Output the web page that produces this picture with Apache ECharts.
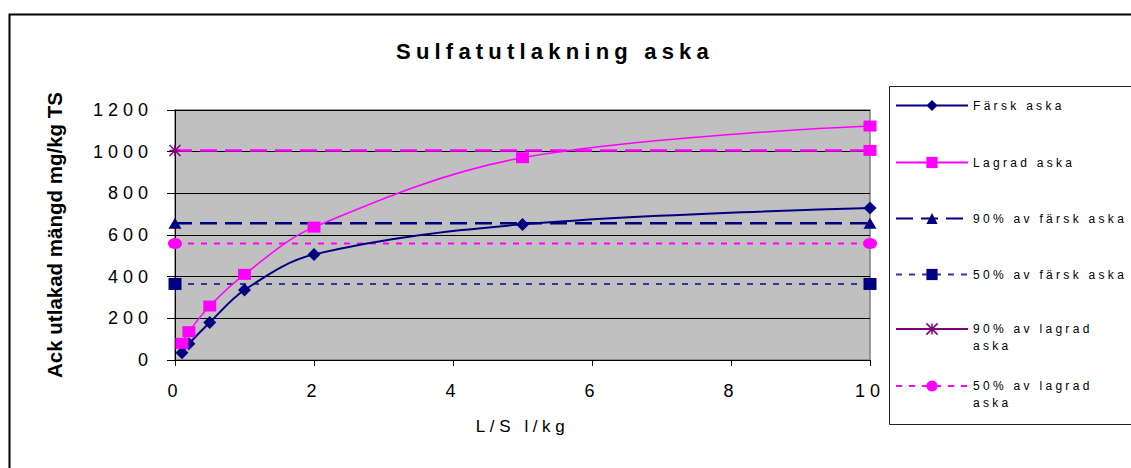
<!DOCTYPE html>
<html>
<head>
<meta charset="utf-8">
<script src="https://cdn.jsdelivr.net/npm/echarts@6/dist/echarts.min.js"></script>
<style>
html, body { margin: 0; padding: 0; background: #fff; }
#chart { width: 1131px; height: 468px; }
#chart text[style*="22px"] { letter-spacing: 5.2px; }
#chart text[style*="18px"] { letter-spacing: 5px; }
#chart text[style*="17px"] { letter-spacing: 4.6px; }
#chart text[style*="12px"] { letter-spacing: 3.3px; }
</style>
</head>
<body>
<div id="chart"></div>
<script>
// ---- data ----
const titleText = 'Sulfatutlakning aska';
const xAxisTitle = 'L/S l/kg';
const yAxisTitle = 'Ack utlakad mängd mg/kg TS';
const xVals = [0.1, 0.2, 0.5, 1, 2, 5, 10];
const farsk = [35, 78, 180, 336, 507, 651, 730];
const lagrad = [80, 136, 259, 411, 638, 971, 1123];
const refX = [0, 10];
const farsk90 = [657, 657];
const farsk50 = [365, 365];
const lagrad90 = [1006, 1006];
const lagrad50 = [559, 559];
const seriesNames = ['Färsk aska', 'Lagrad aska', '90% av färsk aska', '50% av färsk aska', '90% av lagrad aska', '50% av lagrad aska'];
const legendLabels = ['Färsk aska', 'Lagrad aska', '90% av färsk aska', '50% av färsk aska', '\n90% av lagrad\naska', '\n50% av lagrad\naska'];

const pair = (xs, ys) => xs.map((x, i) => [x, ys[i]]);
const NAVY = '#000080', MAG = '#FF00FF', PURP = '#800080';
const STAR = 'path://M0,0L10,10M10,0L0,10M5,0L5,10M0,5L10,5';

const chart = echarts.init(document.getElementById('chart'), null, { renderer: 'svg' });

const rowY = [104, 161, 217, 273, 329, 386];
const legends = seriesNames.map((name, i) => {
  const two = legendLabels[i].indexOf('\n') >= 0;
  const item = { name: name };
  if (i === 4) {
    item.lineStyle = { color: PURP, type: 'solid', width: 2 };
    item.itemStyle = { color: PURP, borderColor: PURP, borderWidth: 1.5 };
  }
  return {
    orient: 'vertical',
    left: 895,
    top: two ? rowY[i] - 25.5 : rowY[i] - 7,
    padding: 0,
    itemWidth: 72,
    itemHeight: 14,
    itemGap: 0,
    selectedMode: false,
    data: [item],
    formatter: () => legendLabels[i],
    textStyle: { fontFamily: 'Liberation Sans', fontSize: 12, color: '#000', lineHeight: 17 }
  };
});

const option = {
  animation: false,
  backgroundColor: '#fff',
  textStyle: { fontFamily: 'Liberation Sans' },
  graphic: [
    { type: 'rect', left: 7, top: 12, shape: { width: 1200, height: 500 }, style: { fill: 'none', stroke: '#000', lineWidth: 2 }, silent: true },
    { type: 'rect', left: 887, top: 84, shape: { width: 300, height: 338 }, style: { fill: 'none', stroke: '#222', lineWidth: 1 }, silent: true },
    { type: 'text', x: 555, y: 51, style: { text: titleText, font: 'bold 22px "Liberation Sans"', fill: '#000', textAlign: 'center', textVerticalAlign: 'middle' }, silent: true }
  ],
  legend: legends,
  grid: {
    left: 175, right: 261, top: 110, bottom: 108,
    show: true, backgroundColor: '#C0C0C0', borderColor: '#808080', borderWidth: 1.5
  },
  xAxis: {
    type: 'value', min: 0, max: 10, interval: 2,
    name: xAxisTitle, nameLocation: 'middle', nameGap: 58,
    nameTextStyle: { fontSize: 17, color: '#000', fontFamily: 'Liberation Sans' },
    axisLine: { show: true, lineStyle: { color: '#000', width: 1 } },
    axisTick: { show: true, length: 6, lineStyle: { color: '#000' } },
    axisLabel: { fontSize: 18, color: '#000', margin: 22, fontFamily: 'Liberation Sans', formatter: v => String(v) },
    splitLine: { show: false }
  },
  yAxis: {
    type: 'value', min: 0, max: 1200, interval: 200,
    name: yAxisTitle, nameLocation: 'middle', nameGap: 110,
    nameTextStyle: { fontSize: 20.5, fontWeight: 'bold', color: '#000', fontFamily: 'Liberation Sans' },
    axisLine: { show: true, lineStyle: { color: '#000', width: 1 } },
    axisTick: { show: true, length: 8, lineStyle: { color: '#000' } },
    axisLabel: { fontSize: 18, color: '#000', margin: 22, fontFamily: 'Liberation Sans', formatter: v => String(v) },
    splitLine: { show: true, lineStyle: { color: '#000', width: 1 } }
  },
  series: [
    {
      name: seriesNames[0], type: 'line', data: pair(xVals, farsk), smooth: 0.35, clip: false,
      symbol: 'diamond', symbolSize: 13,
      itemStyle: { color: NAVY }, lineStyle: { color: NAVY, width: 2 }, z: 5
    },
    {
      name: seriesNames[1], type: 'line', data: pair(xVals, lagrad), smooth: 0.35, clip: false,
      symbol: 'rect', symbolSize: [13, 11],
      itemStyle: { color: MAG }, lineStyle: { color: MAG, width: 1.5 }, z: 5
    },
    {
      name: seriesNames[2], type: 'line', data: pair(refX, farsk90), clip: false,
      symbol: 'triangle', symbolSize: [13, 11],
      itemStyle: { color: NAVY }, lineStyle: { color: NAVY, width: 2.5, type: [17, 8] }, z: 3
    },
    {
      name: seriesNames[3], type: 'line', data: pair(refX, farsk50), clip: false,
      symbol: 'rect', symbolSize: [13, 12],
      itemStyle: { color: NAVY }, lineStyle: { color: '#333399', width: 2, type: [6, 7] }, z: 3
    },
    {
      name: seriesNames[4], type: 'line', clip: false,
      data: pair(refX, lagrad90).map((v, i) => i === 0
        ? { value: v }
        : { value: v, symbol: 'rect', symbolSize: [13, 11], itemStyle: { color: MAG, borderColor: MAG, borderWidth: 0 } }),
      symbol: STAR, symbolSize: 11,
      itemStyle: { color: PURP, borderColor: PURP, borderWidth: 1.5 },
      lineStyle: { color: MAG, width: 2.5, type: [17, 8] }, z: 3
    },
    {
      name: seriesNames[5], type: 'line', data: pair(refX, lagrad50), clip: false,
      symbol: 'circle', symbolSize: [14, 11],
      itemStyle: { color: MAG }, lineStyle: { color: MAG, width: 2, type: [6, 7] }, z: 3
    }
  ]
};
chart.setOption(option);
</script>
</body>
</html>
